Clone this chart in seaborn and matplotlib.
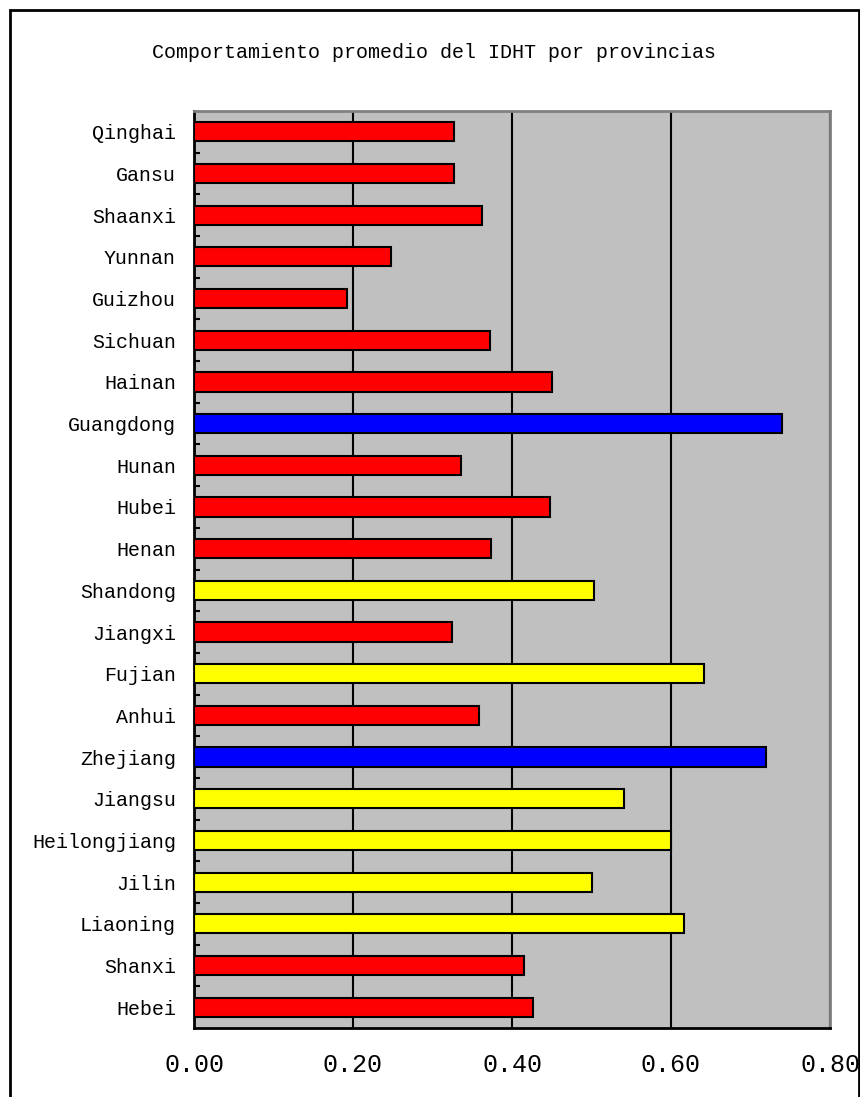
import seaborn as sns
import pandas as pd
import matplotlib.pyplot as plt
from matplotlib.patches import Rectangle
from matplotlib.ticker import FixedLocator

# datos: IDHT promedio por provincia (de arriba hacia abajo)
provincias = ["Qinghai", "Gansu", "Shaanxi", "Yunnan", "Guizhou", "Sichuan", "Hainan",
              "Guangdong", "Hunan", "Hubei", "Henan", "Shandong", "Jiangxi", "Fujian",
              "Anhui", "Zhejiang", "Jiangsu", "Heilongjiang", "Jilin", "Liaoning",
              "Shanxi", "Hebei"]
idht = [0.327, 0.327, 0.362, 0.248, 0.193, 0.372, 0.450,
        0.739, 0.336, 0.448, 0.374, 0.503, 0.324, 0.641,
        0.359, 0.720, 0.541, 0.600, 0.500, 0.616,
        0.415, 0.427]
grupo = ["bajo", "bajo", "bajo", "bajo", "bajo", "bajo", "bajo",
         "alto", "bajo", "bajo", "bajo", "medio", "bajo", "medio",
         "bajo", "alto", "medio", "medio", "medio", "medio",
         "bajo", "bajo"]
colores = {"bajo": "#FF0000", "medio": "#FFFF00", "alto": "#0000FF"}
xticks = [0.0, 0.2, 0.4, 0.6, 0.8]

df = pd.DataFrame({"provincia": provincias, "idht": idht, "grupo": grupo})

plt.rcParams['font.family'] = ["Liberation Mono", "DejaVu Sans"]

fig = plt.figure(figsize=(8.6, 10.97), dpi=100)
ax = fig.add_axes([194 / 860, 1 - 1028 / 1097, 636 / 860, 917 / 1097])

sns.barplot(data=df, x="idht", y="provincia", hue="grupo", palette=colores,
            saturation=1, dodge=False, legend=False, width=0.46, edgecolor="black",
            linewidth=1.5, ax=ax, zorder=3)

ax.set_facecolor("#C0C0C0")
ax.set_xlim(0, 0.8)
ax.set_ylim(len(provincias) - 0.5, -0.5)
ax.set_xticks(xticks)
ax.set_xticklabels([f"{v:.2f}" for v in xticks], fontsize=18)
ax.xaxis.grid(True, color="black", linewidth=1.5, zorder=1)
ax.set_axisbelow(True)
ax.tick_params(axis="x", length=0, pad=18)
ax.tick_params(axis="y", which="major", length=0, pad=13, labelsize=14.4)
ax.yaxis.set_minor_locator(FixedLocator([i + 0.5 for i in range(len(provincias) - 1)]))
ax.tick_params(axis="y", which="minor", direction="in", length=4, width=1.5, color="black")
ax.set_xlabel("")
ax.set_ylabel("")

for lado in ["left", "bottom"]:
    ax.spines[lado].set_color("black")
    ax.spines[lado].set_linewidth(2)
for lado in ["top", "right"]:
    ax.spines[lado].set_color("#808080")
    ax.spines[lado].set_linewidth(2)

fig.text(0.505, 1 - 53 / 1097, "Comportamiento promedio del IDHT por provincias",
         ha="center", va="center", fontsize=14.4)

# marco exterior del gráfico
fig.patches.append(Rectangle((10 / 860, -0.05), 849 / 860, 1.05 - 10 / 1097,
                             transform=fig.transFigure, fill=False,
                             edgecolor="black", linewidth=2, clip_on=False))

fig.savefig("out.png", dpi=100)
